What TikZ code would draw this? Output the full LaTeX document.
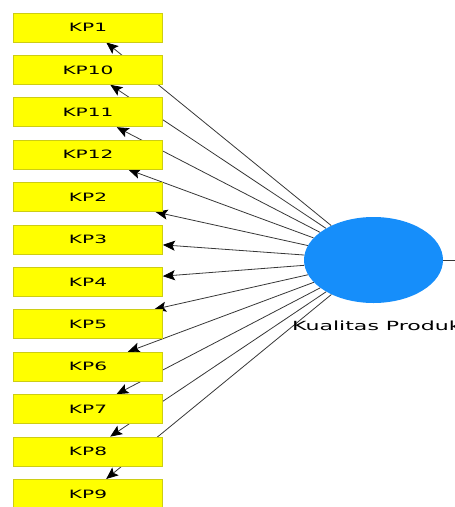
\documentclass[tikz,border=0pt]{standalone}
\usepackage{fontspec}
\newfontfamily\plsfont{DejaVu Sans}[FakeStretch=1.75]
\usetikzlibrary{arrows.meta,backgrounds,positioning,shapes.geometric}
\definecolor{itemfill}{RGB}{255,255,0}
\definecolor{itemline}{RGB}{205,205,20}
\definecolor{latentfill}{RGB}{22,142,250}
\definecolor{pathline}{RGB}{55,55,55}
\tikzset{
  item/.style={rectangle, draw=itemline, line width=0.8pt, fill=itemfill,
    minimum width=149pt, minimum height=29pt, inner sep=0pt,
    font=\plsfont\fontsize{11.5}{13}\selectfont},
  latent/.style={ellipse, fill=latentfill, minimum width=139pt,
    minimum height=86pt, inner sep=0pt},
  loading/.style={draw=pathline, line width=0.8pt,
    -{Stealth[length=12pt,width=10pt,inset=2.5pt,color=black]}}
}
\begin{document}
\begin{tikzpicture}[x=1pt, y=1pt, node distance=42.4pt]
    \useasboundingbox (0,0) rectangle (455,-507);
    % Indicators
    \node[item] at (88,-27.5) (kp1) {KP1};
    \node[item, below of=kp1] (kp10) {KP10};
    \node[item, below of=kp10] (kp11) {KP11};
    \node[item, below of=kp11] (kp12) {KP12};
    \node[item, below of=kp12] (kp2) {KP2};
    \node[item, below of=kp2] (kp3) {KP3};
    \node[item, below of=kp3] (kp4) {KP4};
    \node[item, below of=kp4] (kp5) {KP5};
    \node[item, below of=kp5] (kp6) {KP6};
    \node[item, below of=kp6] (kp7) {KP7};
    \node[item, below of=kp7] (kp8) {KP8};
    \node[item, below of=kp8] (kp9) {KP9};

    % Latent variable
    \node[latent] at (373.5,-260) (kualitas) {};
    \node[anchor=west, inner sep=0pt, font=\plsfont\fontsize{12.6}{14}\selectfont]
      at (292,-326) (kualitaslbl) {Kualitas Produk};
    \coordinate (outer) at (455,-260);

    % Outer loadings
    \begin{pgfonlayer}{background}
    \draw[loading] (kualitas) -- (kp1);
    \draw[loading] (kualitas) -- (kp10);
    \draw[loading] (kualitas) -- (kp11);
    \draw[loading] (kualitas) -- (kp12);
    \draw[loading] (kualitas) -- (kp2);
    \draw[loading] (kualitas) -- (kp3);
    \draw[loading] (kualitas) -- (kp4);
    \draw[loading] (kualitas) -- (kp5);
    \draw[loading] (kualitas) -- (kp6);
    \draw[loading] (kualitas) -- (kp7);
    \draw[loading] (kualitas) -- (kp8);
    \draw[loading] (kualitas) -- (kp9);
    \draw[draw=pathline, line width=0.8pt] (kualitas) -- (outer);
    \end{pgfonlayer}
\end{tikzpicture}
\end{document}
